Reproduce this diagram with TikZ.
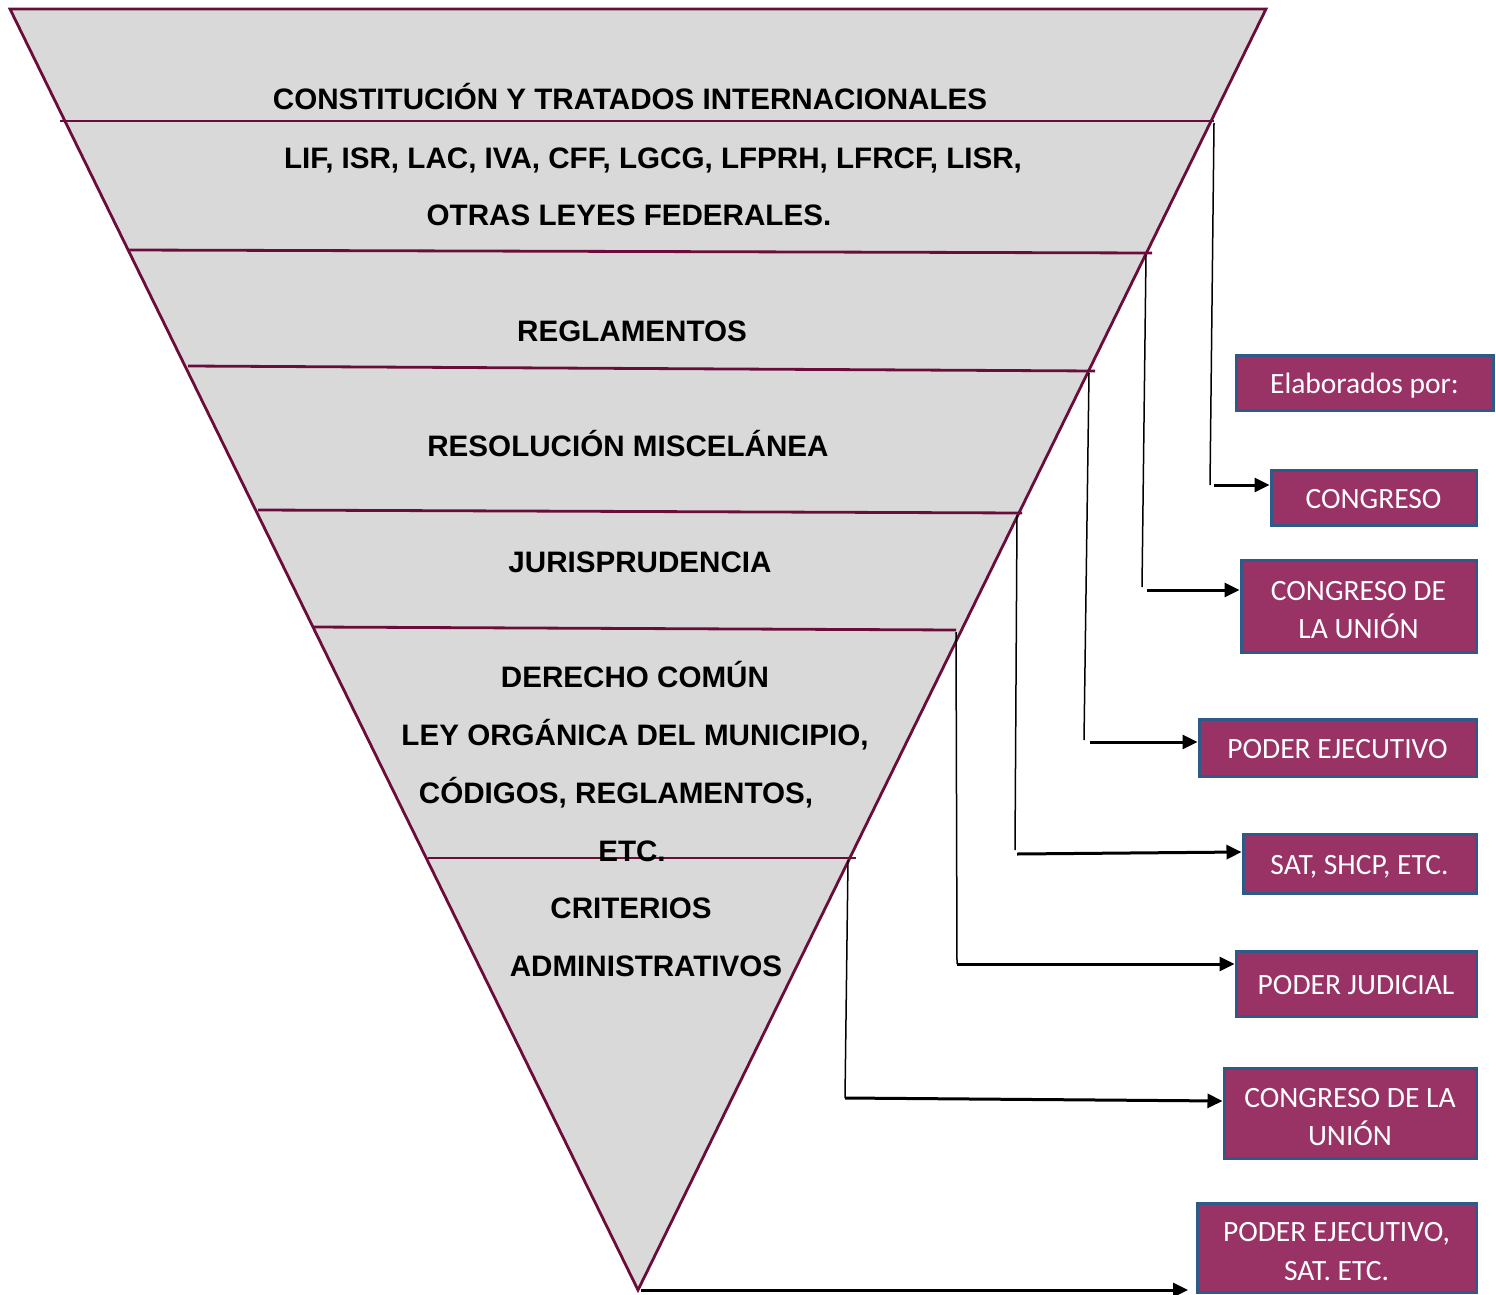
\documentclass[tikz,border=0pt]{standalone}
\usepackage{fontspec}
\setmainfont{Liberation Sans}
\newfontfamily\boxfont{Carlito}
\usetikzlibrary{arrows.meta}
\definecolor{pyrline}{HTML}{6B0D3A}
\definecolor{pyrfill}{HTML}{D9D9D9}
\definecolor{boxfill}{HTML}{993366}
\definecolor{boxedge}{HTML}{2E5A88}
\tikzset{
  lvl/.style={font=\fontsize{29.6}{31}\selectfont\bfseries, anchor=base, inner sep=0pt},
  divider/.style={draw=pyrline, line width=2.8pt},
  lbox/.style={draw=boxedge, line width=3pt, fill=boxfill, text=white, inner sep=0pt,
     font=\boxfont\fontsize{29.5}{38.5}\selectfont, align=center},
  oneline/.style={text height=25pt, text depth=3pt},
  twoline/.style={text height=69pt, text depth=3.5pt},
  vconn/.style={draw=black, line width=1.5pt},
  aconn/.style={draw=black, line width=3pt, -{Triangle[length=15pt,width=14pt]}},
}
\begin{document}
\begin{tikzpicture}[x=1pt,y=-1pt]
\useasboundingbox (0,0) rectangle (1496,1295);
% pyramid
\coordinate (tl) at (10,9);
\coordinate (tr) at (1266,9);
\coordinate (apex) at (638,1290);
\fill[pyrfill] (tl) -- (tr) -- (apex) -- cycle;
% dividers
\coordinate (d1l) at (60,121);   \coordinate (d1r) at (1214,121);
\coordinate (d2l) at (128,250);  \coordinate (d2r) at (1152,253);
\coordinate (d3l) at (188,366);  \coordinate (d3r) at (1095,371);
\coordinate (d4l) at (258,510);  \coordinate (d4r) at (1022,513);
\coordinate (d5l) at (313,627);  \coordinate (d5r) at (956,630);
\coordinate (d6l) at (428,858);  \coordinate (d6r) at (856,858);
\draw[divider] (d1l) -- (d1r);
\draw[divider] (d2l) -- (d2r);
\draw[divider] (d3l) -- (d3r);
\draw[divider] (d4l) -- (d4r);
\draw[divider] (d5l) -- (d5r);
\draw[divider] (d6l) -- (d6r);
\draw[draw=pyrline, line width=2.8pt, line join=miter] (tl) -- (tr) -- (apex) -- cycle;
% level texts
\node[lvl] (t1) at (630,110) {CONSTITUCIÓN Y TRATADOS INTERNACIONALES};
\node[lvl] (t2) at (653,168) {LIF, ISR, LAC, IVA, CFF, LGCG, LFPRH, LFRCF, LISR,};
\node[lvl] (t3) at (629,225) {OTRAS LEYES FEDERALES.};
\node[lvl] (t4) at (632,341) {REGLAMENTOS};
\node[lvl] (t5) at (628,456) {RESOLUCIÓN MISCELÁNEA};
\node[lvl] (t6) at (640,572) {JURISPRUDENCIA};
\node[lvl] (t7) at (635,687) {DERECHO COMÚN};
\node[lvl] (t8) at (635,745) {LEY ORGÁNICA DEL MUNICIPIO,};
\node[lvl] (t9) at (616,803) {CÓDIGOS, REGLAMENTOS,};
\node[lvl] (t10) at (632,861) {ETC.};
\node[lvl] (t11) at (631,918) {CRITERIOS};
\node[lvl] (t12) at (646,976) {ADMINISTRATIVOS};
% boxes
\node[lbox, oneline, minimum width=257, minimum height=55] (elab) at (1364.5,382.5) {Elaborados por:};
\node[lbox, oneline, minimum width=205, minimum height=55] (b1) at (1373.5,497.5) {CONGRESO};
\node[lbox, twoline, minimum width=235, minimum height=92] (b2) at (1358.5,606) {CONGRESO DE\\LA UNIÓN};
\node[lbox, oneline, minimum width=277, minimum height=57] (b3) at (1337.5,747.5) {PODER EJECUTIVO};
\node[lbox, oneline, minimum width=233, minimum height=59] (b4) at (1359.5,863.5) {SAT, SHCP, ETC.};
\node[lbox, oneline, minimum width=240, minimum height=65] (b5) at (1356,983.5) {PODER JUDICIAL};
\node[lbox, twoline, minimum width=252, minimum height=90] (b6) at (1350,1113) {CONGRESO DE LA\\UNIÓN};
\node[lbox, twoline, minimum width=279, minimum height=89] (b7) at (1336.5,1247.5) {PODER EJECUTIVO,\\SAT. ETC.};
% connectors
\coordinate (k1) at (1210,485);
\draw[vconn] (d1r) ++(0,2) -- (k1);
\draw[aconn] (1214,485) -- (b1.west |- 0,485);
\coordinate (k2) at (1142,587);
\draw[vconn] (d2r) ++(-6,2) -- (k2);
\draw[aconn] (1147,590) -- (b2.west |- 0,590);
\coordinate (k3) at (1084,740);
\draw[vconn] (d3r) ++(-6,2) -- (k3);
\draw[aconn] (1090,742) -- (b3.west |- 0,742);
\coordinate (k4) at (1015,850);
\draw[vconn] (d4r) ++(-5,2) -- (k4);
\draw[aconn] (1017,854) -- (b4.west |- 0,852);
\coordinate (k5) at (957,964);
\draw[vconn] (d5r) ++(0,2) -- (k5);
\draw[aconn] (k5) -- (b5.west |- 0,964);
\coordinate (k6) at (845,1098);
\draw[vconn] (d6r) ++(-8,2) -- (k6);
\draw[aconn] (k6) -- (b6.west |- 0,1101);
\coordinate (k7) at (1188,1290);
\draw[aconn] (apex) ++(3,0) -- (k7);
\end{tikzpicture}
\end{document}
